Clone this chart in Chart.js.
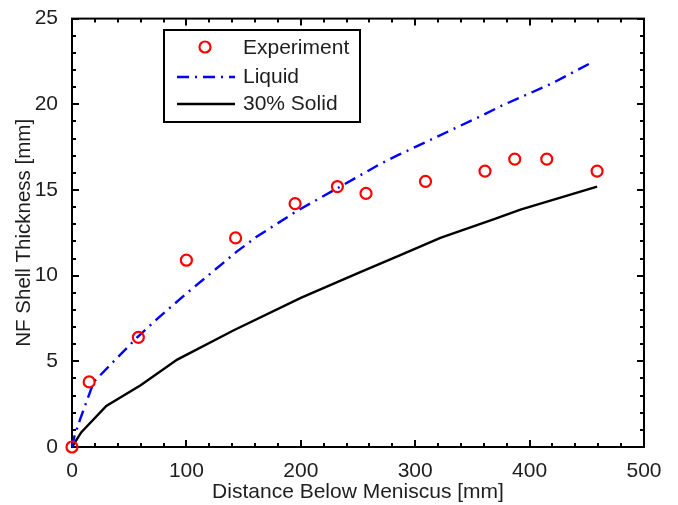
<!DOCTYPE html>
<html>
<head>
<meta charset="utf-8">
<script src="https://cdn.jsdelivr.net/npm/chart.js@4/dist/chart.umd.min.js"></script>
<style>
  html, body { margin: 0; padding: 0; background: #fff; }
  #wrap { width: 678px; height: 505px; }
</style>
</head>
<body>
<div id="wrap"><canvas id="c" width="678" height="505"></canvas></div>
<script>
// Measured shell thickness along the strand
const expX = [0, 15, 58, 100, 143, 195, 232, 257, 309, 361, 387, 415, 459];
const expY = [0, 3.8, 6.4, 10.9, 12.2, 14.2, 15.2, 14.8, 15.5, 16.1, 16.8, 16.8, 16.1];

// Predicted shell thickness, liquidus isotherm
const liqX = [0, 2, 7, 19, 57, 74, 99, 144, 161, 196, 232, 269, 284, 357, 375, 419, 456];
const liqY = [0, 0.6, 1.6, 3.8, 6.4, 7.45, 8.9, 11.4, 12.25, 13.75, 15.1, 16.5, 17.0, 19.3, 19.9, 21.2, 22.5];

// Predicted shell thickness, 30% solid fraction
const solX = [0, 8, 30, 60, 92, 141, 200, 252, 287, 322, 369, 392, 459];
const solY = [0, 0.85, 2.4, 3.6, 5.1, 6.8, 8.7, 10.2, 11.2, 12.2, 13.3, 13.85, 15.2];

// Axis tick values
const xTicks = [0, 100, 200, 300, 400, 500];
const yTicks = [0, 5, 10, 15, 20, 25];
const xMinorStep = 20;
const yMinorStep = 1;

const FONT = "'Liberation Sans', Arial, Helvetica, sans-serif";
const TEXT = '#1e1e1e';

const pts = (xs, ys) => xs.map((x, i) => ({ x: x, y: ys[i] }));

// Boxed axes with inward major/minor ticks on all four sides
const boxAxes = {
  id: 'boxAxes',
  beforeDatasetsDraw(chart) {
    const { ctx, chartArea: a, scales: { x, y } } = chart;
    ctx.save();
    ctx.strokeStyle = '#000';
    ctx.lineWidth = 2;
    ctx.lineCap = 'butt';
    ctx.beginPath();
    for (let v = x.min; v <= x.max + 1e-9; v += xMinorStep) {
      const len = xTicks.includes(Math.round(v)) ? 7 : 4;
      const px = Math.round(x.getPixelForValue(v));
      ctx.moveTo(px, a.bottom); ctx.lineTo(px, a.bottom - len);
      ctx.moveTo(px, a.top); ctx.lineTo(px, a.top + len);
    }
    for (let v = y.min; v <= y.max + 1e-9; v += yMinorStep) {
      const len = yTicks.includes(Math.round(v)) ? 7 : 4;
      const py = Math.round(y.getPixelForValue(v));
      ctx.moveTo(a.left, py); ctx.lineTo(a.left + len, py);
      ctx.moveTo(a.right, py); ctx.lineTo(a.right - len, py);
    }
    ctx.stroke();
    ctx.strokeRect(a.left, a.top, a.right - a.left, a.bottom - a.top);
    ctx.restore();
  }
};

// Boxed legend inside the upper-left part of the plot
const boxLegend = {
  id: 'boxLegend',
  afterDraw(chart) {
    const { ctx } = chart;
    const ds = chart.data.datasets;
    const bx = 164, by = 30, bw = 196, bh = 92;
    ctx.save();
    ctx.fillStyle = '#fff';
    ctx.fillRect(bx, by, bw, bh);
    ctx.strokeStyle = '#000';
    ctx.lineWidth = 2;
    ctx.strokeRect(bx, by, bw, bh);
    const rows = [48, 77, 104];
    const x0 = 177, x1 = 235, tx = 243;
    ds.forEach((d, i) => {
      const yy = rows[i];
      if (!d.showLine) {
        ctx.beginPath();
        ctx.arc((x0 + x1) / 2 - 1, yy - 1, d.pointRadius, 0, Math.PI * 2);
        ctx.strokeStyle = d.pointBorderColor;
        ctx.lineWidth = d.pointBorderWidth;
        ctx.stroke();
      } else {
        ctx.beginPath();
        ctx.setLineDash(d.borderDash || []);
        ctx.strokeStyle = d.borderColor;
        ctx.lineWidth = d.borderWidth;
        ctx.moveTo(x0, yy); ctx.lineTo(x1, yy);
        ctx.stroke();
        ctx.setLineDash([]);
      }
      ctx.fillStyle = TEXT;
      ctx.font = '21px ' + FONT;
      ctx.textBaseline = 'middle';
      ctx.textAlign = 'left';
      ctx.fillText(d.label, tx, yy);
    });
    ctx.restore();
  }
};

new Chart(document.getElementById('c'), {
  type: 'scatter',
  data: {
    datasets: [
      {
        label: 'Experiment',
        data: pts(expX, expY),
        showLine: false,
        pointStyle: 'circle',
        pointRadius: 5.5,
        pointBorderWidth: 2.2,
        pointBorderColor: '#ff0000',
        pointBackgroundColor: 'rgba(0,0,0,0)',
        clip: false,
        order: 0
      },
      {
        label: 'Liquid',
        data: pts(liqX, liqY),
        showLine: true,
        borderColor: '#0000ff',
        borderWidth: 2.4,
        borderDash: [12, 6, 2, 6],
        pointRadius: 0,
        fill: false,
        tension: 0,
        clip: false,
        order: 1
      },
      {
        label: '30% Solid',
        data: pts(solX, solY),
        showLine: true,
        borderColor: '#000000',
        borderWidth: 2.4,
        pointRadius: 0,
        fill: false,
        tension: 0,
        clip: false,
        order: 2
      }
    ]
  },
  options: {
    responsive: false,
    animation: false,
    devicePixelRatio: 1,
    layout: { padding: { top: 15, right: 34, left: 12, bottom: 0 } },
    plugins: {
      legend: { display: false },
      tooltip: { enabled: false }
    },
    scales: {
      x: {
        type: 'linear',
        min: 0, max: 500,
        afterBuildTicks: s => { s.ticks = xTicks.map(v => ({ value: v })); },
        afterFit: s => { s.height = 58; },
        grid: { display: false },
        border: { display: false },
        ticks: { color: TEXT, font: { family: FONT, size: 21 }, padding: 4, maxRotation: 0 },
        title: {
          display: true, text: 'Distance Below Meniscus [mm]',
          color: TEXT, font: { family: FONT, size: 21 }, padding: { top: 0, bottom: 0 }
        }
      },
      y: {
        type: 'linear',
        min: 0, max: 25,
        afterBuildTicks: s => { s.ticks = yTicks.map(v => ({ value: v })); },
        afterFit: s => { s.width = 60; },
        grid: { display: false },
        border: { display: false },
        ticks: { color: TEXT, font: { family: FONT, size: 21 }, padding: 6 },
        title: {
          display: true, text: 'NF Shell Thickness [mm]',
          color: TEXT, font: { family: FONT, size: 20.5 }, padding: { top: 0, bottom: 0 }
        }
      }
    }
  },
  plugins: [boxAxes, boxLegend]
});
</script>
</body>
</html>
